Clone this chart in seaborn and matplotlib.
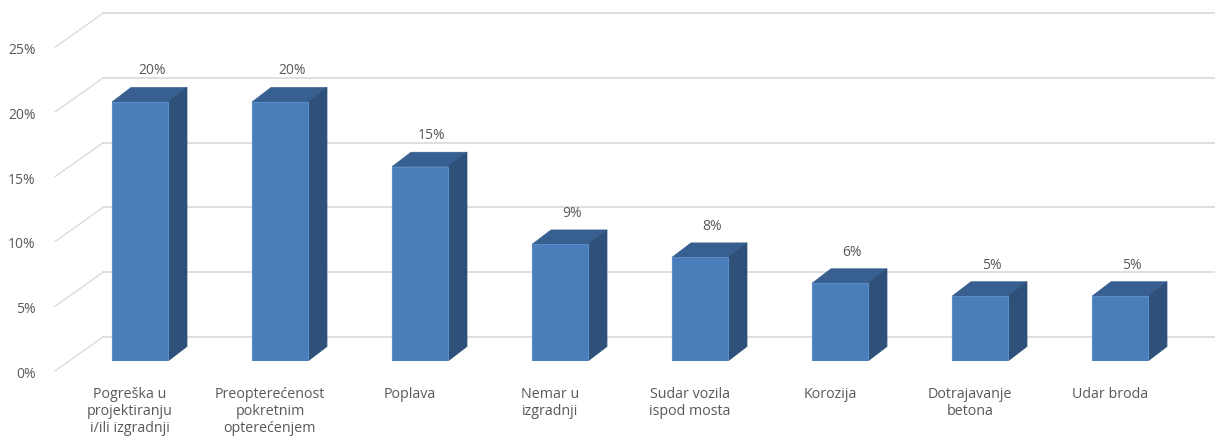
import matplotlib
matplotlib.use("Agg")
import matplotlib.pyplot as plt
import matplotlib.transforms as mtransforms
from matplotlib.patches import Polygon
import seaborn as sns
import pandas as pd

# ---- data ----
categories = [
    "Pogreška u\nprojektiranju\ni/ili izgradnji",
    "Preopterećenost\npokretnim\nopterećenjem",
    "Poplava",
    "Nemar u\nizgradnji",
    "Sudar vozila\nispod mosta",
    "Korozija",
    "Dotrajavanje\nbetona",
    "Udar broda",
]
values = [20, 20, 15, 9, 8, 6, 5, 5]
ytick_values = [0, 5, 10, 15, 20, 25]
ytick_labels = ["0%", "5%", "10%", "15%", "20%", "25%"]

# ---- style ----
sns.set_theme(style="white")
plt.rcParams["font.family"] = ["Open Sans", "DejaVu Sans"]
TEXT = "#595959"
GRID = "#DCDCDC"
FRONT = "#4A7EBB"
TOP = "#375F8F"
SIDE = "#2E5079"

W, H, DPI = 1215, 436, 100
fig = plt.figure(figsize=(W / DPI, H / DPI), dpi=DPI)
fig.patch.set_facecolor("white")

# axes: bar front plane, 0% at pixel row 361 from top
ax_left_px, ax_bottom_px = 40, 75
ax = fig.add_axes([ax_left_px / W, ax_bottom_px / H, (W - ax_left_px) / W, (H - ax_bottom_px) / H])
ax.set_facecolor("none")

PX_PER_X = 140.0      # pixels per category
PX_PER_Y = 12.95      # pixels per percent
xlim = (-(140 - ax_left_px) / PX_PER_X, (W - 140) / PX_PER_X)
ylim = (0, (H - ax_bottom_px) / PX_PER_Y)

def ox(px):
    return px / PX_PER_X

def oy(px):
    return px / PX_PER_Y

def px2x(px):
    return xlim[0] + (px - ax_left_px) / PX_PER_X

df = pd.DataFrame({"cat": categories, "val": values})

# ---- back wall gridlines and floor diagonals ----
for v in ytick_values:
    yb = v + oy(24)
    ax.plot([px2x(103), xlim[1]], [yb, yb], color=GRID, lw=1.3, zorder=0, clip_on=False)
    ax.plot([px2x(103), px2x(55)], [yb, v - oy(10)], color=GRID, lw=1.0, zorder=0, clip_on=False)

# ---- bars (front faces) ----
sns.barplot(data=df, x="cat", y="val", color=FRONT, width=0.4, saturation=1,
            edgecolor="#5A8CC8", linewidth=0.8, ax=ax, zorder=3)

dx, dy = ox(19), oy(14.5)
for patch in list(ax.patches):
    x0 = patch.get_x()
    w = patch.get_width()
    h = patch.get_height()
    x1 = x0 + w
    top = Polygon([(x0, h), (x1, h), (x1 + dx, h + dy), (x0 + dx, h + dy)],
                  closed=True, facecolor=TOP, edgecolor=TOP, lw=0.5, zorder=2)
    side = Polygon([(x1, 0), (x1, h), (x1 + dx, h + dy), (x1 + dx, dy)],
                   closed=True, facecolor=SIDE, edgecolor=SIDE, lw=0.5, zorder=2)
    ax.add_patch(top)
    ax.add_patch(side)
    ax.text(x0 + w / 2 + ox(12), h + oy(31), f"{h:.0f}%", ha="center", va="center",
            fontsize=10, color=TEXT, zorder=5)

ax.set_xlim(*xlim)
ax.set_ylim(*ylim)

# ---- axes text ----
ax.set_yticks(ytick_values, ytick_labels)
ax.tick_params(axis="y", length=0, pad=3, labelsize=10, labelcolor=TEXT)
ax.tick_params(axis="x", length=0, pad=18.5, labelsize=10.3, labelcolor=TEXT)
ax.set_xlabel("")
ax.set_ylabel("")
for lab in ax.get_yticklabels():
    lab.set_transform(lab.get_transform() + mtransforms.ScaledTranslation(0, -11.5 / DPI, fig.dpi_scale_trans))
for lab in ax.get_xticklabels():
    lab.set_transform(lab.get_transform() + mtransforms.ScaledTranslation(-10 / DPI, 0, fig.dpi_scale_trans))
    lab.set_linespacing(1.18)

for s in ax.spines.values():
    s.set_visible(False)
ax.grid(False)

fig.savefig("out.png", dpi=DPI, facecolor="white")
